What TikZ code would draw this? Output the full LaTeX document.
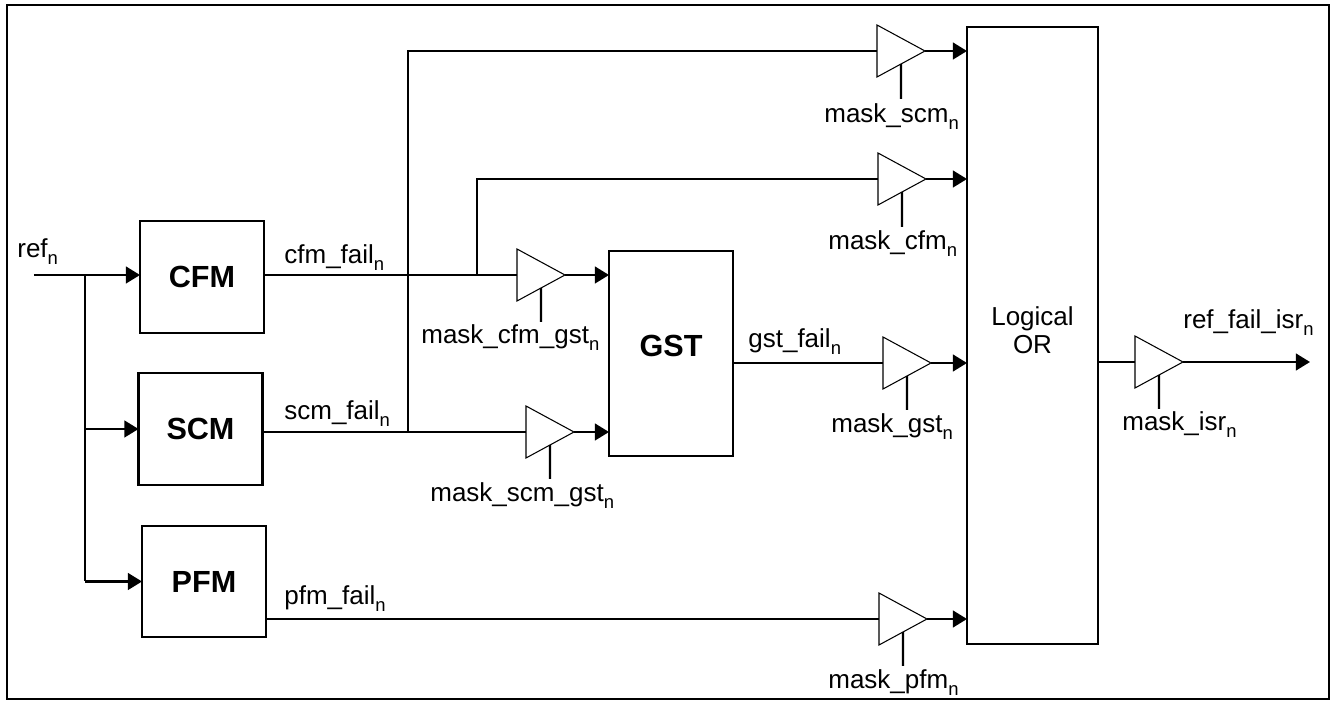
\documentclass[tikz,border=0pt]{standalone}
\usepackage{fontspec}
\setmainfont{Liberation Sans}
\usepackage{tikz}
\usetikzlibrary{arrows.meta}
\usetikzlibrary{shapes.geometric}

\newcommand{\subn}{\raisebox{-0.45ex}{\fontsize{10.5}{12}\selectfont n}}

\tikzset{
    wire/.style={line width=1.15pt},
    wiretip/.style={wire, -{Triangle[length=8pt, width=9.5pt]}},
    block/.style={draw, line width=1.15pt, inner sep=0pt, outer sep=0pt, minimum width=2.48cm, font=\fontsize{17.4}{20}\selectfont\bfseries},
    buffer/.style={draw, fill=white, line width=0.6pt, isosceles triangle, isosceles triangle stretches, inner sep=0pt, outer sep=0pt, minimum width=1.04cm, minimum height=0.96cm, anchor=lower side},
    signal/.style={anchor=base west, inner sep=0pt, font=\fontsize{14.8}{17}\selectfont},
}

\begin{document}
\begin{tikzpicture}
            \useasboundingbox (0, 0) rectangle (26.6, 14.08);
            \draw[wire] (0.14, 0.10) rectangle (26.58, 13.98);

            \node[block, minimum height=2.24cm] (cfm) at (4.04, 8.54) {CFM};
            \node[block, minimum height=2.24cm] (scm) at (4.01, 5.50) {SCM};
            \node[block, minimum height=2.22cm] (pfm) at (4.08, 2.45) {PFM};
            \node[block, minimum height=4.10cm, text depth=9.1pt] (gst) at (13.42, 7.01) {GST};
            \node[block, minimum width=2.62cm, minimum height=12.34cm, font=\fontsize{14.8}{16}\selectfont, align=center, text depth=5.7pt] (logicor) at (20.65, 7.37) {Logical\\OR};

            \node[buffer] (bufcfmgst) at (10.34, 8.58) {};
            \node[buffer] (bufscmgst) at (10.52, 5.44) {};
            \node[buffer] (bufscm) at (17.54, 13.06) {};
            \node[buffer] (bufcfm) at (17.56, 10.50) {};
            \node[buffer] (bufgst) at (17.66, 6.82) {};
            \node[buffer] (bufpfm) at (17.58, 1.70) {};
            \node[buffer] (bufisr) at (22.70, 6.84) {};

            \coordinate (refin) at (0.68, 8.58);
            \coordinate (refjoin) at (1.70, 8.58);
            \coordinate (scmjoin) at (8.16, 5.44);
            \coordinate (cfmjoin) at (9.54, 8.58);
            \coordinate (isrout) at (26.20, 6.84);

            \draw[wiretip] (refin) -- (cfm.west |- refin);
            \draw[wire] (refjoin) -- (refjoin |- pfm.west);
            \draw[wiretip] (refjoin |- scm.west) -- (scm.west);
            \draw[wiretip] (refjoin |- pfm.west) -- (pfm.west);

            \draw[wire] (cfm.east |- bufcfmgst.lower side) -- (bufcfmgst.lower side);
            \draw[wire] (scm.east |- bufscmgst.lower side) -- (bufscmgst.lower side);
            \draw[wire] (pfm.east |- bufpfm.lower side) -- (bufpfm.lower side);
            \draw[wire] (gst.east |- bufgst.lower side) -- (bufgst.lower side);
            \draw[wire] (logicor.east |- bufisr.lower side) -- (bufisr.lower side);
            \draw[wire] (scmjoin) |- (bufscm.lower side);
            \draw[wire] (cfmjoin) |- (bufcfm.lower side);

            \draw[wiretip] (bufcfmgst.apex) -- (gst.west |- bufcfmgst.apex);
            \draw[wiretip] (bufscmgst.apex) -- (gst.west |- bufscmgst.apex);
            \draw[wiretip] (bufscm.apex) -- (logicor.west |- bufscm.apex);
            \draw[wiretip] (bufcfm.apex) -- (logicor.west |- bufcfm.apex);
            \draw[wiretip] (bufgst.apex) -- (logicor.west |- bufgst.apex);
            \draw[wiretip] (bufpfm.apex) -- (logicor.west |- bufpfm.apex);
            \draw[wiretip] (bufisr.apex) -- (isrout);

            \coordinate (maskcfmgst) at (10.82, 7.64);
            \coordinate (maskscmgst) at (11.00, 4.50);
            \coordinate (maskscm) at (18.02, 12.10);
            \coordinate (maskcfm) at (18.04, 9.54);
            \coordinate (maskgst) at (18.14, 5.88);
            \coordinate (maskpfm) at (18.06, 0.76);
            \coordinate (maskisr) at (23.18, 5.90);

            \draw[wire] (bufcfmgst.right side) -- (maskcfmgst);
            \draw[wire] (bufscmgst.right side) -- (maskscmgst);
            \draw[wire] (bufscm.right side) -- (maskscm);
            \draw[wire] (bufcfm.right side) -- (maskcfm);
            \draw[wire] (bufgst.right side) -- (maskgst);
            \draw[wire] (bufpfm.right side) -- (maskpfm);
            \draw[wire] (bufisr.right side) -- (maskisr);

            \node[signal] (lblref) at (0.34, 8.92) {ref\subn};
            \node[signal] (lblcfmfail) at (5.68, 8.80) {cfm\_fail\subn};
            \node[signal] (lblscmfail) at (5.68, 5.68) {scm\_fail\subn};
            \node[signal] (lblpfmfail) at (5.68, 1.98) {pfm\_fail\subn};
            \node[signal] (lblgstfail) at (14.96, 7.12) {gst\_fail\subn};
            \node[signal] (lblisrfail) at (23.66, 7.50) {ref\_fail\_isr\subn};
            \node[signal] (lblcfmgst) at (8.42, 7.20) {mask\_cfm\_gst\subn};
            \node[signal] (lblscmgst) at (8.60, 4.04) {mask\_scm\_gst\subn};
            \node[signal] (lblscm) at (16.48, 11.62) {mask\_scm\subn};
            \node[signal] (lblcfm) at (16.56, 9.08) {mask\_cfm\subn};
            \node[signal] (lblgst) at (16.62, 5.42) {mask\_gst\subn};
            \node[signal] (lblpfm) at (16.56, 0.30) {mask\_pfm\subn};
            \node[signal] (lblisr) at (22.44, 5.46) {mask\_isr\subn};
        \end{tikzpicture}
\end{document}
